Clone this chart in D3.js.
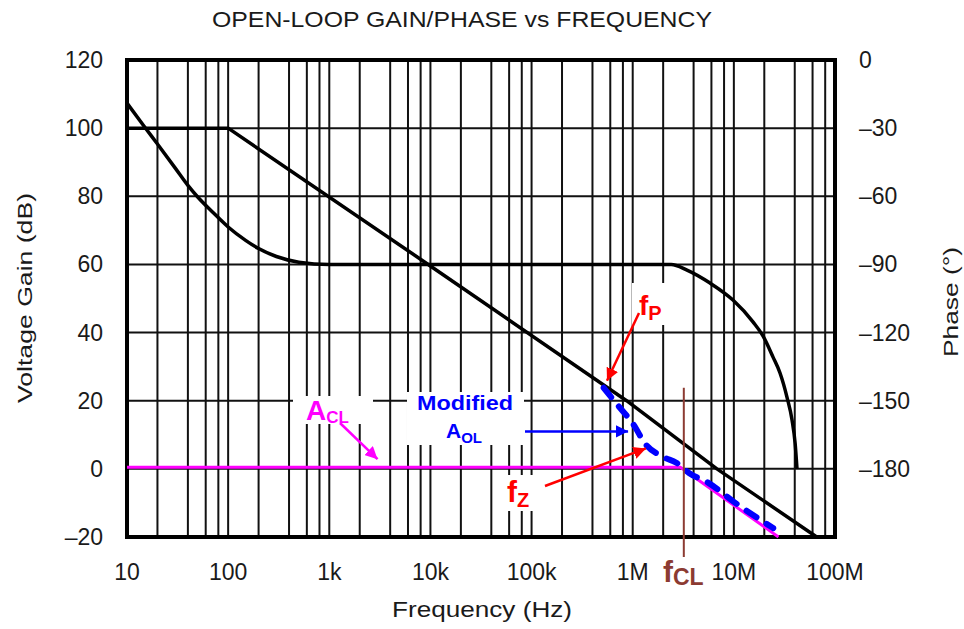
<!DOCTYPE html>
<html lang="en">
<head>
    <meta charset="UTF-8">
    <title>Open-loop gain/phase vs frequency</title>
    <script type="text/javascript" src="https://cdnjs.cloudflare.com/ajax/libs/d3/7.8.5/d3.min.js"></script>
    <style>
        body { margin: 0; background: #fff; }
        text { font-family: "Liberation Sans", Arial, sans-serif; }
    </style>
</head>
<body>
<div id="chart"></div>
<script>
    // tick labels
    var freqTicks = [10, 1e2, 1e3, 1e4, 1e5, 1e6, 1e7, 1e8];
    var freqLabels = ["10", "100", "1k", "10k", "100k", "1M", "10M", "100M"];
    var gainTicks = [120, 100, 80, 60, 40, 20, 0, -20];
    var phaseTicks = [0, -30, -60, -90, -120, -150, -180];

    // open-loop gain (Hz, dB)
    var gainData = [[10, 100], [100, 100], [9.5e3, 60], [8.7e5, 20], [6.8e6, 0], [6.6e7, -20]];
    // open-loop phase (Hz, degrees)
    var phaseData = [[10, -19], [15, -29.6], [20, -37], [30, -47.6], [40, -55.2], [50, -60.3],
        [70, -66.9], [100, -73.5], [150, -79.5], [200, -83], [300, -86.5], [500, -89],
        [1e3, -90], [2.4e6, -90], [3.44e6, -92.5], [5.81e6, -98.2], [9.8e6, -105.7],
        [1.545e7, -115.3], [1.94e7, -121.5], [2.44e7, -130.8], [2.86e7, -137.8],
        [3.35e7, -148.4], [3.76e7, -158.5], [4.03e7, -168.6], [4.21e7, -180]];
    // modified open-loop gain (Hz, dB)
    var aolModData = [[5.16e5, 23.8], [6.8e5, 19.4], [1.07e6, 12], [1.28e6, 8], [2e6, 3.5],
        [2.7e6, 1.8], [3.6e6, -1.2], [5.6e6, -4.1], [1e7, -9.7], [2.45e7, -17.4]];
    // closed-loop gain (Hz, dB)
    var aclData = [[10, 0.5], [2.96e6, 0.5], [2.76e7, -20]];
    var fCL = 3.2e6, fCLTop = 23.8;

    var width = 964, height = 629;
    var svg = d3.select("#chart").append("svg")
        .attr("width", width).attr("height", height);

    var x = d3.scaleLog().domain([10, 1e8]).range([127, 835]);
    var y = d3.scaleLinear().domain([-20, 120]).range([537, 60]);
    var yPhase = d3.scaleLinear().domain([-210, 0]).range([537, 60]);

    // grid: decades plus 2,4,6,8 multiples
    var vGrid = [];
    for (var d = 10; d < 1e8; d *= 10) {
        [2, 4, 6, 8].forEach(function(m) { vGrid.push(d * m); });
    }
    var grid = svg.append("g").attr("stroke", "#111").attr("stroke-width", 2);
    grid.selectAll(".v").data(vGrid.concat(freqTicks)).enter().append("line")
        .attr("x1", function(f) { return x(f); }).attr("x2", function(f) { return x(f); })
        .attr("y1", y(120)).attr("y2", y(-20));
    grid.selectAll(".h").data(gainTicks).enter().append("line")
        .attr("x1", x(10)).attr("x2", x(1e8))
        .attr("y1", function(v) { return y(v); }).attr("y2", function(v) { return y(v); });

    svg.append("rect")
        .attr("x", x(10)).attr("y", y(120))
        .attr("width", x(1e8) - x(10)).attr("height", y(-20) - y(120))
        .attr("fill", "none").attr("stroke", "#000").attr("stroke-width", 4);

    // axes text
    var axisText = svg.append("g").attr("fill", "#1a1a1a").attr("font-size", 23);
    axisText.selectAll(".gl").data(gainTicks).enter().append("text")
        .attr("x", 103).attr("y", function(v) { return y(v) + 8; })
        .attr("text-anchor", "end")
        .text(function(v) { return v < 0 ? "\u2013" + (-v) : v; });
    axisText.selectAll(".pl").data(phaseTicks).enter().append("text")
        .attr("x", 859).attr("y", function(v) { return yPhase(v) + 8; })
        .attr("text-anchor", "start")
        .text(function(v) { return v < 0 ? "\u2013" + (-v) : v; });
    axisText.selectAll(".fl").data(freqTicks).enter().append("text")
        .attr("x", function(f) { return x(f); }).attr("y", 580)
        .attr("text-anchor", "middle")
        .text(function(f, i) { return freqLabels[i]; });

    svg.append("text").attr("x", 462).attr("y", 27).attr("text-anchor", "middle")
        .attr("font-size", 22).attr("fill", "#1a1a1a")
        .attr("textLength", 500).attr("lengthAdjust", "spacingAndGlyphs")
        .text("OPEN-LOOP GAIN/PHASE vs FREQUENCY");
    svg.append("text").attr("x", 482).attr("y", 617).attr("text-anchor", "middle")
        .attr("font-size", 22).attr("fill", "#1a1a1a")
        .attr("textLength", 180).attr("lengthAdjust", "spacingAndGlyphs")
        .text("Frequency (Hz)");
    svg.append("text").attr("transform", "translate(32,298) rotate(-90)")
        .attr("text-anchor", "middle").attr("font-size", 21).attr("fill", "#1a1a1a")
        .attr("textLength", 210).attr("lengthAdjust", "spacingAndGlyphs")
        .text("Voltage Gain (dB)");
    svg.append("text").attr("transform", "translate(958,302) rotate(-90)")
        .attr("text-anchor", "middle").attr("font-size", 21).attr("fill", "#1a1a1a")
        .attr("textLength", 110).attr("lengthAdjust", "spacingAndGlyphs")
        .text("Phase (\u00b0)");

    // curves
    var gainLine = d3.line().x(function(d) { return x(d[0]); }).y(function(d) { return y(d[1]); });
    var smoothGain = d3.line().curve(d3.curveMonotoneX)
        .x(function(d) { return x(d[0]); }).y(function(d) { return y(d[1]); });
    var phaseLine = d3.line().curve(d3.curveMonotoneX)
        .x(function(d) { return x(d[0]); }).y(function(d) { return yPhase(d[1]); });

    svg.append("path").attr("d", phaseLine(phaseData))
        .attr("fill", "none").attr("stroke", "#000").attr("stroke-width", 3.5);
    svg.append("path").attr("d", gainLine(gainData))
        .attr("fill", "none").attr("stroke", "#000").attr("stroke-width", 3.5)
        .attr("stroke-linejoin", "round");
    svg.append("path").attr("d", gainLine(aclData))
        .attr("fill", "none").attr("stroke", "#ff00ff").attr("stroke-width", 3);
    svg.append("path").attr("d", smoothGain(aolModData))
        .attr("fill", "none").attr("stroke", "#0000ff").attr("stroke-width", 6)
        .attr("stroke-linecap", "round").attr("stroke-dasharray", "12,12");

    svg.append("line")
        .attr("x1", x(fCL)).attr("x2", x(fCL))
        .attr("y1", y(fCLTop)).attr("y2", y(-20) + 20)
        .attr("stroke", "#8c3b32").attr("stroke-width", 2);

    // annotations
    var defs = svg.append("defs");
    function marker(id, color) {
        defs.append("marker").attr("id", id)
            .attr("viewBox", "0 0 10 10").attr("refX", 10).attr("refY", 5)
            .attr("markerWidth", 5).attr("markerHeight", 5).attr("orient", "auto")
            .attr("markerUnits", "strokeWidth")
            .append("path").attr("d", "M0,0 L10,5 L0,10 z").attr("fill", color);
    }
    marker("arRed", "#ff0000");
    marker("arBlue", "#0000ff");
    marker("arMag", "#ff00ff");

    function whiteBox(x0, y0, w, h) {
        svg.append("rect").attr("x", x0).attr("y", y0).attr("width", w).attr("height", h).attr("fill", "#fff");
    }
    function arrow(p0, p1, color, id) {
        svg.append("line").attr("x1", p0[0]).attr("y1", p0[1]).attr("x2", p1[0]).attr("y2", p1[1])
            .attr("stroke", color).attr("stroke-width", 2.5).attr("marker-end", "url(#" + id + ")");
    }
    function subLabel(px, py, main, sub, color, mainSize, subSize, dy, weight) {
        var t = svg.append("text").attr("x", px).attr("y", py).attr("fill", color)
            .attr("font-weight", weight || "bold");
        t.append("tspan").attr("font-size", mainSize).text(main);
        t.append("tspan").attr("font-size", subSize).attr("dy", dy).text(sub);
    }

    whiteBox(293, 396, 80, 28);
    whiteBox(407, 392, 117, 53);
    whiteBox(632, 283, 36, 42);
    whiteBox(505, 475, 31, 36);

    subLabel(306, 420, "A", "CL", "#ff00ff", 28, 17, 3);
    arrow([340, 423], [x(3e3), y(0.5) - 8], "#ff00ff", "arMag");

    svg.append("text").attr("x", 465).attr("y", 410).attr("text-anchor", "middle")
        .attr("font-size", 21).attr("font-weight", "bold").attr("fill", "#0000ff")
        .attr("textLength", 96).attr("lengthAdjust", "spacingAndGlyphs").text("Modified");
    subLabel(446, 438, "A", "OL", "#0000ff", 21, 15, 5);
    arrow([525, y(11)], [x(9e5), y(11)], "#0000ff", "arBlue");

    subLabel(639, 315, "f", "P", "#ff0000", 28, 20, 5);
    arrow([639, 313], [x(5.2e5) + 3, y(25) - 3], "#ff0000", "arRed");

    subLabel(507, 502, "f", "Z", "#ff0000", 30, 20, 5);
    arrow([545, 486], [x(1.35e6), y(6)], "#ff0000", "arRed");

    subLabel(663, 582, "f", "CL", "#8c3b32", 30, 23, 3);
</script>
</body>
</html>
